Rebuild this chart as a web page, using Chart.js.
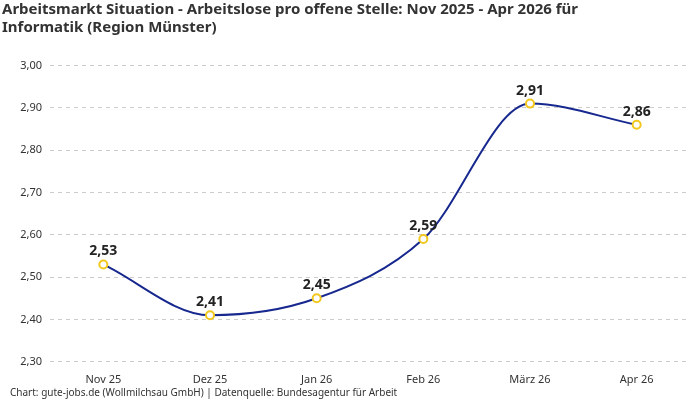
<!DOCTYPE html>
<html>
<head>
<meta charset="utf-8">
<script src="https://cdn.jsdelivr.net/npm/chart.js@4"></script>
<style>
  body { margin: 0; background: #fff; }
  #wrap { width: 700px; height: 400px; position: relative; }
</style>
</head>
<body>
<div id="wrap"><canvas id="chart"></canvas></div>
<script>
const categories = ['Nov 25', 'Dez 25', 'Jan 26', 'Feb 26', 'März 26', 'Apr 26'];
const values = [2.53, 2.41, 2.45, 2.59, 2.91, 2.86];
const yTicks = [2.3, 2.4, 2.5, 2.6, 2.7, 2.8, 2.9, 3.0];

const fmt = v => v.toFixed(2).replace('.', ',');

// Werte ueber den Punkten
const pointLabels = {
  id: 'pointLabels',
  afterDatasetsDraw(chart) {
    const ctx = chart.ctx;
    const meta = chart.getDatasetMeta(0);
    ctx.save();
    ctx.font = 'bold 14px "Noto Sans"';
    ctx.fillStyle = '#222';
    ctx.textAlign = 'center';
    ctx.textBaseline = 'bottom';
    meta.data.forEach((p, i) => ctx.fillText(fmt(values[i]), p.x, p.y - 6));
    ctx.restore();
  }
};

// Quelle unten links
const footer = {
  id: 'footer',
  afterDraw(chart) {
    const ctx = chart.ctx;
    ctx.save();
    ctx.font = '10px "Noto Sans"';
    ctx.fillStyle = '#333';
    ctx.textBaseline = 'middle';
    ctx.fillText('Chart: gute-jobs.de (Wollmilchsau GmbH) | Datenquelle: Bundesagentur für Arbeit', 10, 393);
    ctx.restore();
  }
};

new Chart(document.getElementById('chart'), {
  type: 'line',
  data: {
    labels: categories,
    datasets: [{
      data: values,
      borderColor: '#17288f',
      borderWidth: 2,
      cubicInterpolationMode: 'monotone',
      pointBackgroundColor: '#fff',
      pointBorderColor: '#f2c81e',
      pointBorderWidth: 2,
      pointRadius: 4
    }]
  },
  options: {
    responsive: true,
    maintainAspectRatio: false,
    animation: false,
    layout: { padding: { left: 2, right: 10, bottom: 11 } },
    plugins: {
      legend: { display: false },
      tooltip: { enabled: false },
      title: {
        display: true,
        text: ['Arbeitsmarkt Situation - Arbeitslose pro offene Stelle: Nov 2025 - Apr 2026 für', 'Informatik (Region Münster)'],
        align: 'start',
        color: '#333',
        font: { family: 'Noto Sans', size: 15, weight: 'bold', lineHeight: 1.25 },
        padding: { top: 0, bottom: 28 }
      }
    },
    scales: {
      x: {
        offset: true,
        grid: { display: false },
        border: { display: false },
        ticks: { color: '#333', font: { family: 'Noto Sans', size: 11 } }
      },
      y: {
        min: 2.3,
        max: 3.0,
        afterBuildTicks(axis) { axis.ticks = yTicks.map(v => ({ value: v })); },
        afterFit(axis) { axis.width = 48; },
        border: { display: false, dash: [4, 4] },
        grid: { color: '#ccc', drawTicks: false },
        ticks: {
          color: '#333',
          padding: 8,
          font: { family: 'Noto Sans', size: 11 },
          callback: v => fmt(v)
        }
      }
    }
  },
  plugins: [pointLabels, footer]
});
</script>
</body>
</html>
